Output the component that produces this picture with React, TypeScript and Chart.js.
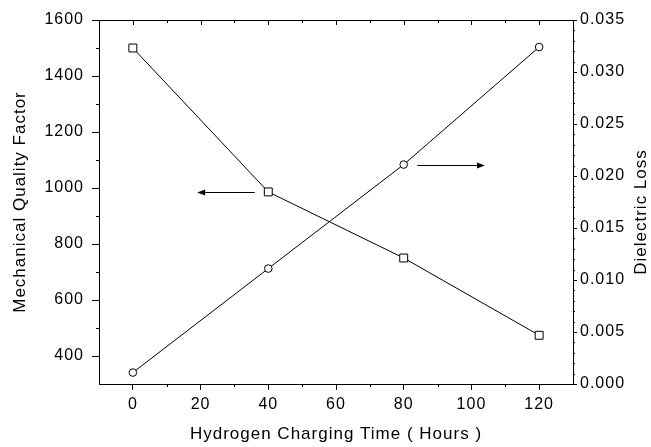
import React, { useEffect, useRef } from "react";
import { Chart, registerables } from "chart.js";

Chart.register(...registerables);

// ---- data ----
const hours = [0, 40, 80, 120];
const qualityFactor = [1500, 986, 750, 474];
const dielectricLoss = [0.0011, 0.0111, 0.0211, 0.0324];

// ---- axes ----
const xTicks = [0, 20, 40, 60, 80, 100, 120];
const xMinorTicks = [10, 30, 50, 70, 90, 110];
const leftTicks = [400, 600, 800, 1000, 1200, 1400, 1600];
const leftMinorTicks = [500, 700, 900, 1100, 1300, 1500];
const rightTicks = [0, 0.005, 0.01, 0.015, 0.02, 0.025, 0.03, 0.035];
const rightMinorTicks = [
  0.001, 0.002, 0.003, 0.004, 0.006, 0.007, 0.008, 0.009, 0.011, 0.012, 0.013, 0.014,
  0.016, 0.017, 0.018, 0.019, 0.021, 0.022, 0.023, 0.024, 0.026, 0.027, 0.028, 0.029,
  0.031, 0.032, 0.033, 0.034,
];

// ---- annotation arrows (data coordinates) ----
const leftArrowX = [36, 19]; // from, to (points to left axis)
const leftArrowLevel = 986;
const rightArrowX = [84, 104]; // from, to (points to right axis)
const rightArrowLevel = 0.0211;

const xTitle = "Hydrogen Charging Time ( Hours )";
const leftTitle = "Mechanical Quality Factor";
const rightTitle = "Dielectric Loss";

const FONT = "'Liberation Sans', Arial, Helvetica, sans-serif";

function drawArrow(ctx: CanvasRenderingContext2D, x0: number, x1: number, y: number) {
  const dir = Math.sign(x1 - x0);
  const head = 8;
  ctx.beginPath();
  ctx.moveTo(x0, y);
  ctx.lineTo(x1 - dir * head, y);
  ctx.stroke();
  ctx.beginPath();
  ctx.moveTo(x1, y);
  ctx.lineTo(x1 - dir * head, y - 3);
  ctx.lineTo(x1 - dir * head, y + 3);
  ctx.closePath();
  ctx.fill();
}

const framePlugin = {
  id: "frame",
  beforeUpdate(chart: any) {
    chart.ctx.letterSpacing = "1px";
  },
  beforeDraw(chart: any) {
    const ctx = chart.ctx;
    ctx.save();
    ctx.fillStyle = "#fff";
    ctx.fillRect(0, 0, chart.width, chart.height);
    ctx.restore();
    ctx.letterSpacing = "1px";
  },
  afterDraw(chart: any) {
    const { ctx, chartArea, scales } = chart;
    const { left, right, top, bottom } = chartArea;
    const x = scales.x;
    const y = scales.y;
    const y1 = scales.y1;
    ctx.save();
    ctx.strokeStyle = "#000";
    ctx.fillStyle = "#000";
    ctx.lineWidth = 1;
    ctx.beginPath();
    // top frame
    ctx.moveTo(left, Math.round(top) + 0.5);
    ctx.lineTo(right, Math.round(top) + 0.5);
    // top ticks (inward)
    xTicks.forEach((v) => {
      const px = Math.round(x.getPixelForValue(v)) + 0.5;
      ctx.moveTo(px, top);
      ctx.lineTo(px, top + 5);
    });
    xMinorTicks.forEach((v) => {
      const px = Math.round(x.getPixelForValue(v)) + 0.5;
      ctx.moveTo(px, top);
      ctx.lineTo(px, top + 3);
      ctx.moveTo(px, bottom);
      ctx.lineTo(px, bottom + 3);
    });
    leftMinorTicks.forEach((v) => {
      const py = Math.round(y.getPixelForValue(v)) + 0.5;
      ctx.moveTo(left, py);
      ctx.lineTo(left - 3, py);
    });
    rightMinorTicks.forEach((v) => {
      const py = Math.round(y1.getPixelForValue(v)) + 0.5;
      ctx.moveTo(right, py);
      ctx.lineTo(right + 2, py);
    });
    ctx.stroke();

    // arrows
    drawArrow(
      ctx,
      x.getPixelForValue(leftArrowX[0]),
      x.getPixelForValue(leftArrowX[1]),
      Math.round(y.getPixelForValue(leftArrowLevel)) + 0.5
    );
    drawArrow(
      ctx,
      x.getPixelForValue(rightArrowX[0]),
      x.getPixelForValue(rightArrowX[1]),
      Math.round(y1.getPixelForValue(rightArrowLevel)) + 0.5
    );

    // right axis title (reads bottom to top)
    ctx.translate(641, 212);
    ctx.rotate(-Math.PI / 2);
    ctx.font = `17px ${FONT}`;
    ctx.letterSpacing = "1px";
    ctx.textAlign = "center";
    ctx.textBaseline = "middle";
    ctx.fillText(rightTitle, 0, 0);
    ctx.restore();
  },
};

export default function App() {
  const ref = useRef<HTMLCanvasElement | null>(null);

  useEffect(() => {
    if (!ref.current) return;
    const chart = new Chart(ref.current, {
      type: "line",
      data: {
        datasets: [
          {
            label: "Mechanical Quality Factor",
            data: hours.map((h, i) => ({ x: h, y: qualityFactor[i] })),
            yAxisID: "y",
            borderColor: "#000",
            borderWidth: 1,
            backgroundColor: "#fff",
            pointStyle: "rect",
            pointRadius: 5.6,
            pointBorderWidth: 1,
            pointBorderColor: "#000",
            pointBackgroundColor: "#fff",
            tension: 0,
          },
          {
            label: "Dielectric Loss",
            data: hours.map((h, i) => ({ x: h, y: dielectricLoss[i] })),
            yAxisID: "y1",
            borderColor: "#000",
            borderWidth: 1,
            backgroundColor: "#fff",
            pointStyle: "circle",
            pointRadius: 3.8,
            pointBorderWidth: 1,
            pointBorderColor: "#000",
            pointBackgroundColor: "#fff",
            tension: 0,
          },
        ],
      },
      options: {
        animation: false,
        responsive: false,
        layout: { padding: { top: 20, left: 0, right: 0, bottom: 0 } },
        plugins: {
          legend: { display: false },
          tooltip: { enabled: false },
        },
        scales: {
          x: {
            type: "linear",
            position: "bottom",
            min: -10,
            max: 130,
            afterBuildTicks: (s: any) => {
              s.ticks = xTicks.map((v) => ({ value: v }));
            },
            afterFit: (s: any) => {
              s.height = 63;
            },
            ticks: {
              color: "#000",
              font: { family: FONT, size: 16 },
              padding: 5,
              maxRotation: 0,
              autoSkip: false,
              callback: (v: any) => String(v),
            },
            grid: {
              drawOnChartArea: false,
              color: "#000",
              tickLength: 6,
              tickWidth: 1,
            },
            border: { display: true, color: "#000", width: 1 },
            title: {
              display: true,
              text: xTitle,
              color: "#000",
              font: { family: FONT, size: 17 },
              padding: { top: 0, bottom: 2 },
            },
          },
          y: {
            type: "linear",
            position: "left",
            min: 300,
            max: 1600,
            afterBuildTicks: (s: any) => {
              s.ticks = leftTicks.map((v) => ({ value: v }));
            },
            afterFit: (s: any) => {
              s.width = 99;
            },
            ticks: {
              color: "#000",
              font: { family: FONT, size: 16 },
              padding: 8,
              autoSkip: false,
              callback: (v: any) => String(v),
            },
            grid: {
              drawOnChartArea: false,
              color: "#000",
              tickLength: 7,
              tickWidth: 1,
            },
            border: { display: true, color: "#000", width: 1 },
            title: {
              display: true,
              text: leftTitle,
              color: "#000",
              font: { family: FONT, size: 17 },
              padding: { top: 10, bottom: 0 },
            },
          },
          y1: {
            type: "linear",
            position: "right",
            min: 0,
            max: 0.035,
            afterBuildTicks: (s: any) => {
              s.ticks = rightTicks.map((v) => ({ value: v }));
            },
            afterFit: (s: any) => {
              s.width = 78;
            },
            ticks: {
              color: "#000",
              font: { family: FONT, size: 16 },
              padding: 3,
              autoSkip: false,
              callback: (v: any) => Number(v).toFixed(3),
            },
            grid: {
              drawOnChartArea: false,
              color: "#000",
              tickLength: 4,
              tickWidth: 1,
            },
            border: { display: true, color: "#000", width: 1 },
          },
        },
      },
      plugins: [framePlugin],
    } as any);
    return () => chart.destroy();
  }, []);

  return (
    <div
      style={{
        position: "absolute",
        left: 0,
        top: 0,
        width: 651,
        height: 447,
        background: "#fff",
      }}
    >
      <canvas ref={ref} width={651} height={447} style={{ width: 651, height: 447, display: "block" }} />
    </div>
  );
}
